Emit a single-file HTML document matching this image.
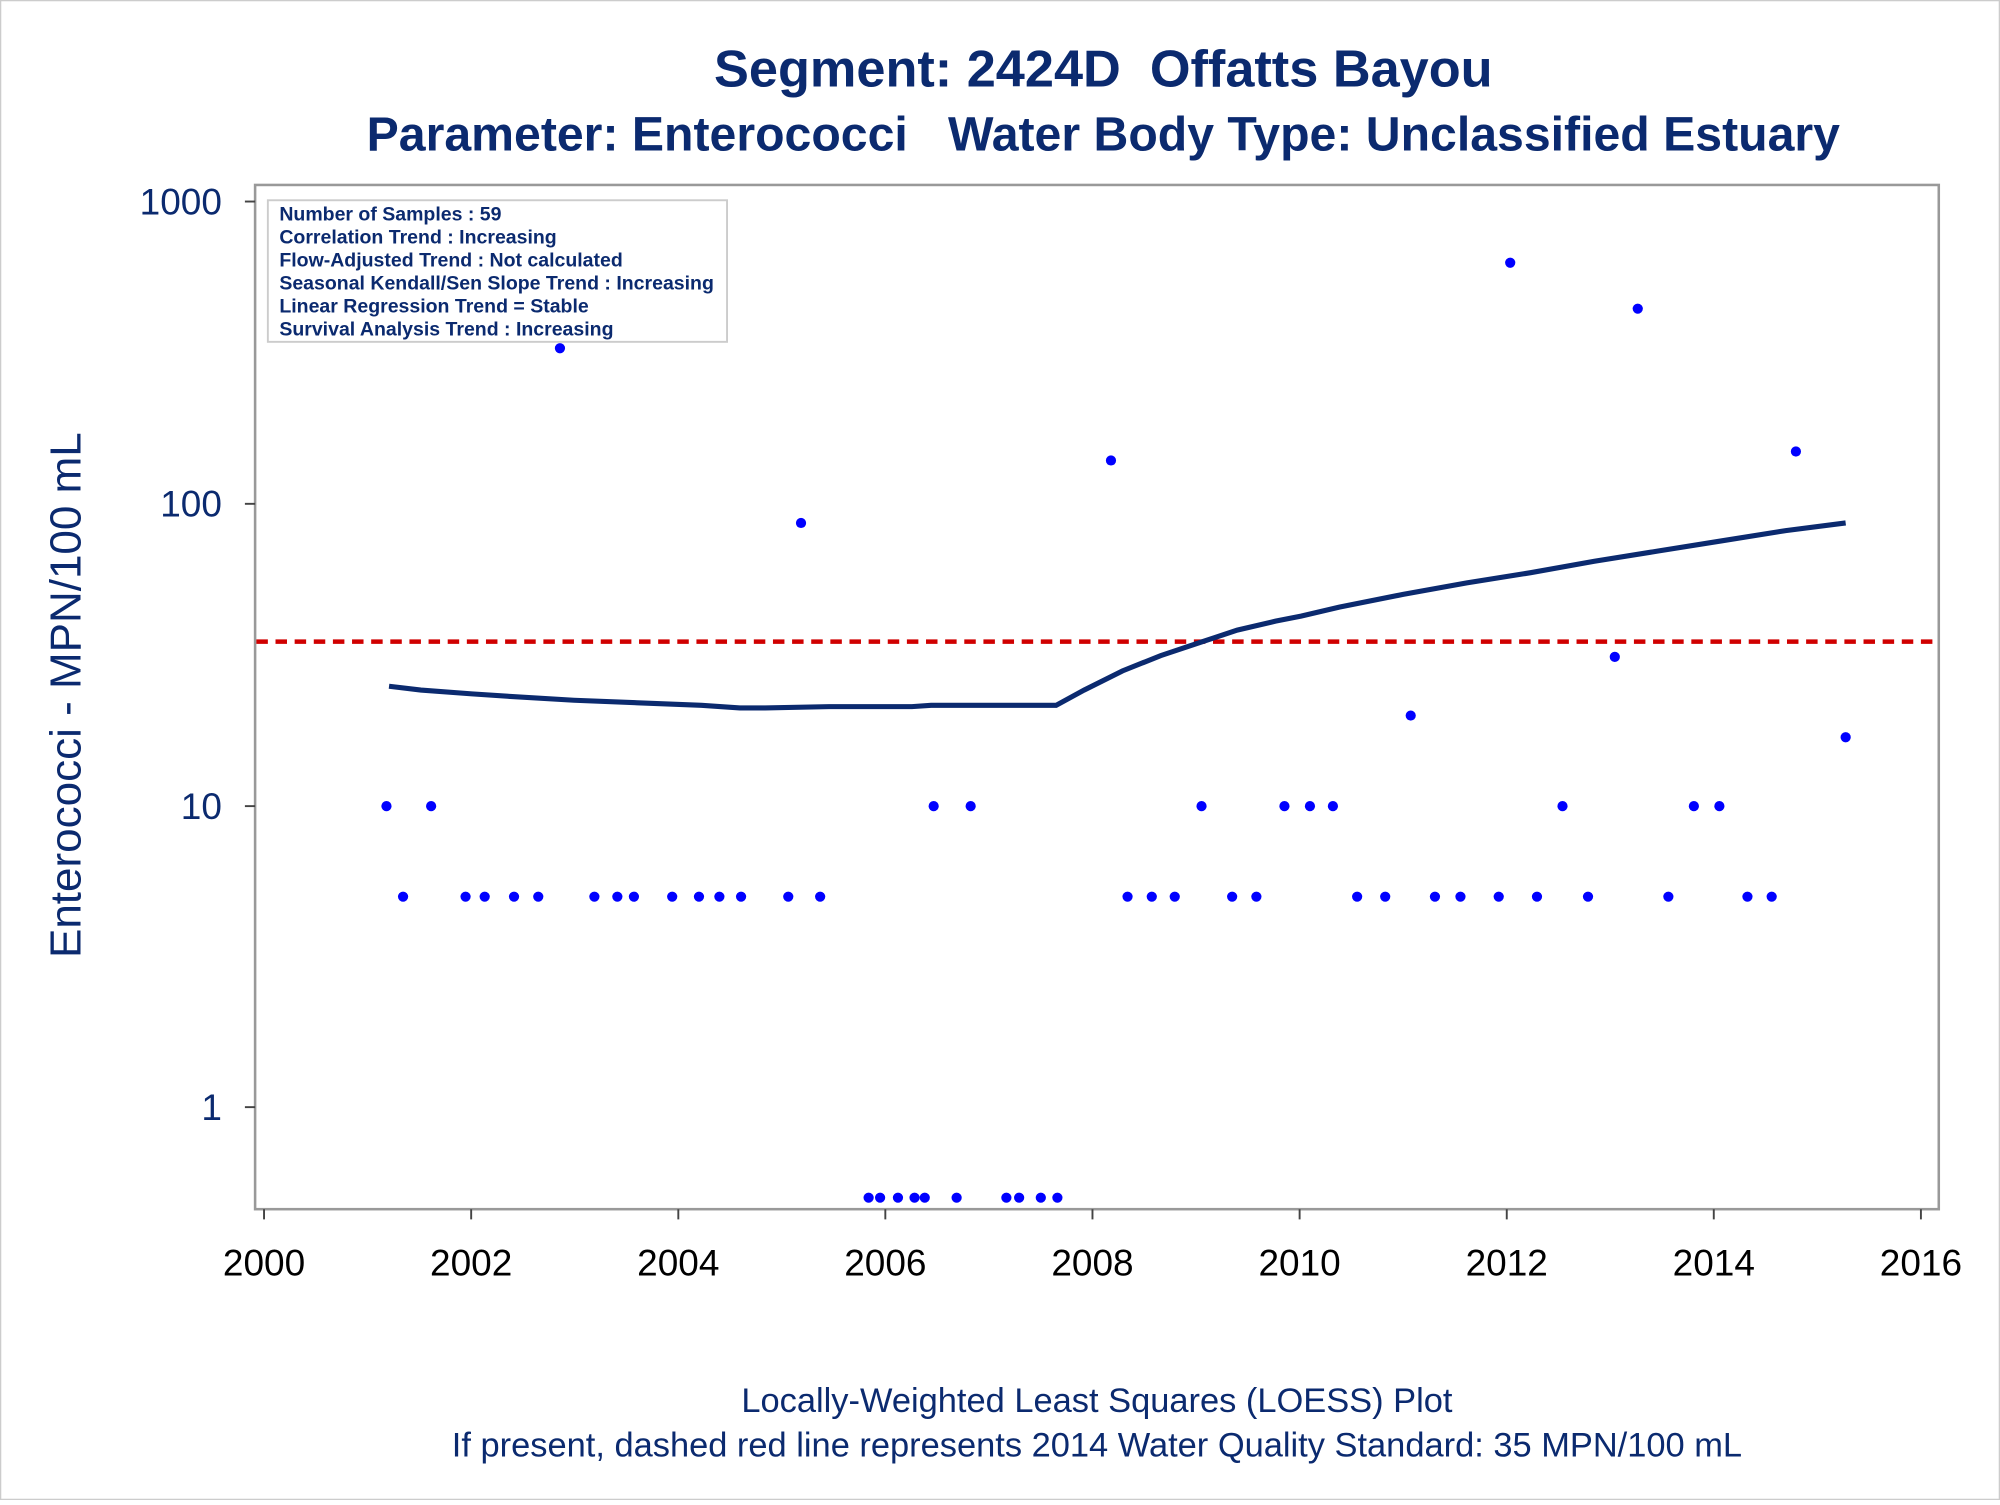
<!DOCTYPE html>
<html><head><meta charset="utf-8"><style>html,body{margin:0;padding:0;background:#fff}text{white-space:pre}</style></head>
<body>
<svg width="2000" height="1500" viewBox="0 0 1568 1176" xmlns="http://www.w3.org/2000/svg" font-family="Liberation Sans, sans-serif" xml:space="preserve">
<rect x="0.5" y="0.5" width="1567" height="1175" fill="#fff" stroke="#ccc"/>
<g fill="#0b2a6f" font-weight="bold" text-anchor="middle">
<text x="865" y="68" font-size="41">Segment: 2424D  Offatts Bayou</text>
<text x="865" y="118" font-size="37.8">Parameter: Enterococci   Water Body Type: Unclassified Estuary</text>
</g>
<rect x="200" y="145" width="1320" height="803" fill="none" stroke="#999" stroke-width="2"/>
<g stroke="#444" stroke-width="1.5">
<line x1="192" y1="158" x2="200" y2="158"/><line x1="192" y1="395" x2="200" y2="395"/>
<line x1="192" y1="632" x2="200" y2="632"/><line x1="192" y1="868" x2="200" y2="868"/>
<line x1="207" y1="948" x2="207" y2="956"/><line x1="369.4" y1="948" x2="369.4" y2="956"/>
<line x1="531.8" y1="948" x2="531.8" y2="956"/><line x1="694.1" y1="948" x2="694.1" y2="956"/>
<line x1="856.5" y1="948" x2="856.5" y2="956"/><line x1="1018.9" y1="948" x2="1018.9" y2="956"/>
<line x1="1181.3" y1="948" x2="1181.3" y2="956"/><line x1="1343.6" y1="948" x2="1343.6" y2="956"/>
<line x1="1506" y1="948" x2="1506" y2="956"/>
</g>
<g fill="#0b2a6f" font-size="29" text-anchor="end">
<text x="174" y="168">1000</text><text x="174" y="405">100</text><text x="174" y="642">10</text><text x="174" y="878">1</text>
</g>
<g fill="#000" font-size="29" text-anchor="middle">
<text x="207" y="1000">2000</text><text x="369.4" y="1000">2002</text><text x="531.8" y="1000">2004</text><text x="694.1" y="1000">2006</text><text x="856.5" y="1000">2008</text><text x="1018.9" y="1000">2010</text><text x="1181.3" y="1000">2012</text><text x="1343.6" y="1000">2014</text><text x="1506" y="1000">2016</text>
</g>
<text transform="translate(63,545) rotate(-90)" fill="#0b2a6f" font-size="34.5" text-anchor="middle">Enterococci - MPN/100 mL</text>
<line x1="201" y1="503" x2="1519" y2="503" stroke="#d00000" stroke-width="3.5" stroke-dasharray="9,6"/>
<polyline fill="none" stroke="#0b2a6f" stroke-width="4" points="305,538 330,541 370,544 400,546 450,549 500,551 550,553 580,555 600,555 650,554 715,554 730,553 828,553 850,541 880,526 910,514 940,504 970,494 1000,487 1020,483 1050,476 1100,466 1150,457 1200,449 1250,440 1300,432 1350,424 1400,416 1447,410"/>
<g fill="#0000ff">
<circle cx="303" cy="632" r="4"/><circle cx="316" cy="703" r="4"/><circle cx="338" cy="632" r="4"/><circle cx="365" cy="703" r="4"/><circle cx="380" cy="703" r="4"/><circle cx="403" cy="703" r="4"/><circle cx="422" cy="703" r="4"/><circle cx="439" cy="273" r="4"/><circle cx="466" cy="703" r="4"/><circle cx="484" cy="703" r="4"/><circle cx="497" cy="703" r="4"/><circle cx="527" cy="703" r="4"/><circle cx="548" cy="703" r="4"/><circle cx="564" cy="703" r="4"/><circle cx="581" cy="703" r="4"/><circle cx="618" cy="703" r="4"/><circle cx="628" cy="410" r="4"/><circle cx="643" cy="703" r="4"/><circle cx="681" cy="939" r="4"/><circle cx="690" cy="939" r="4"/><circle cx="704" cy="939" r="4"/><circle cx="717" cy="939" r="4"/><circle cx="725" cy="939" r="4"/><circle cx="732" cy="632" r="4"/><circle cx="750" cy="939" r="4"/><circle cx="761" cy="632" r="4"/><circle cx="789" cy="939" r="4"/><circle cx="799" cy="939" r="4"/><circle cx="816" cy="939" r="4"/><circle cx="829" cy="939" r="4"/><circle cx="871" cy="361" r="4"/><circle cx="884" cy="703" r="4"/><circle cx="903" cy="703" r="4"/><circle cx="921" cy="703" r="4"/><circle cx="942" cy="632" r="4"/><circle cx="966" cy="703" r="4"/><circle cx="985" cy="703" r="4"/><circle cx="1007" cy="632" r="4"/><circle cx="1027" cy="632" r="4"/><circle cx="1045" cy="632" r="4"/><circle cx="1064" cy="703" r="4"/><circle cx="1086" cy="703" r="4"/><circle cx="1106" cy="561" r="4"/><circle cx="1125" cy="703" r="4"/><circle cx="1145" cy="703" r="4"/><circle cx="1175" cy="703" r="4"/><circle cx="1184" cy="206" r="4"/><circle cx="1205" cy="703" r="4"/><circle cx="1225" cy="632" r="4"/><circle cx="1245" cy="703" r="4"/><circle cx="1266" cy="515" r="4"/><circle cx="1284" cy="242" r="4"/><circle cx="1308" cy="703" r="4"/><circle cx="1328" cy="632" r="4"/><circle cx="1348" cy="632" r="4"/><circle cx="1370" cy="703" r="4"/><circle cx="1389" cy="703" r="4"/><circle cx="1408" cy="354" r="4"/><circle cx="1447" cy="578" r="4"/>
</g>
<rect x="210" y="157" width="360" height="111" fill="#fff" stroke="#ccc" stroke-width="1.5"/>
<g fill="#0b2a6f" font-size="15.3" font-weight="bold">
<text x="219" y="173">Number of Samples : 59</text>
<text x="219" y="191">Correlation Trend : Increasing</text>
<text x="219" y="209">Flow-Adjusted Trend : Not calculated</text>
<text x="219" y="227">Seasonal Kendall/Sen Slope Trend : Increasing</text>
<text x="219" y="245">Linear Regression Trend = Stable</text>
<text x="219" y="263">Survival Analysis Trend : Increasing</text>
</g>
<g fill="#0b2a6f" font-size="27" text-anchor="middle">
<text x="860" y="1107">Locally-Weighted Least Squares (LOESS) Plot</text>
<text x="860" y="1142">If present, dashed red line represents 2014 Water Quality Standard: 35 MPN/100 mL</text>
</g>
</svg>
</body></html>
